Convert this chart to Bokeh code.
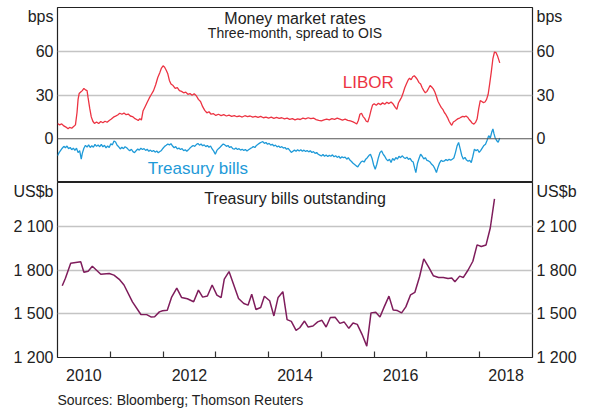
from bokeh.plotting import figure
from bokeh.layouts import column
from bokeh.models import (Range1d, FixedTicker, LinearAxis, Span, Label, Title,
                          CustomJSTickFormatter)
from bokeh.embed import file_html
from bokeh.resources import INLINE

# ---------------- data ----------------
libor_x = [2010.00, 2010.04, 2010.08, 2010.12, 2010.16, 2010.20, 2010.23, 2010.27, 2010.31, 2010.34,
           2010.37, 2010.39, 2010.41, 2010.44, 2010.47, 2010.50, 2010.53, 2010.56, 2010.58, 2010.61,
           2010.64, 2010.67, 2010.70, 2010.74, 2010.78, 2010.82, 2010.86, 2010.90, 2010.94, 2010.98,
           2011.02, 2011.06, 2011.10, 2011.14, 2011.18, 2011.22, 2011.26, 2011.30, 2011.34, 2011.38,
           2011.42, 2011.46, 2011.50, 2011.53, 2011.56, 2011.59, 2011.62, 2011.66, 2011.70, 2011.74,
           2011.78, 2011.82, 2011.86, 2011.90, 2011.94, 2011.97, 2012.00, 2012.03, 2012.06, 2012.09,
           2012.12, 2012.15, 2012.19, 2012.23, 2012.27, 2012.31, 2012.35, 2012.39, 2012.43, 2012.47,
           2012.51, 2012.55, 2012.59, 2012.63, 2012.67, 2012.71, 2012.75, 2012.79, 2012.83, 2012.87,
           2012.91, 2012.95, 2013.00, 2013.05, 2013.10, 2013.15, 2013.20, 2013.25, 2013.30, 2013.35,
           2013.40, 2013.45, 2013.50, 2013.55, 2013.60, 2013.65, 2013.70, 2013.75, 2013.80, 2013.85,
           2013.90, 2013.95, 2014.00, 2014.05, 2014.10, 2014.15, 2014.20, 2014.25, 2014.30, 2014.35,
           2014.40, 2014.45, 2014.50, 2014.55, 2014.60, 2014.65, 2014.70, 2014.75, 2014.80, 2014.85,
           2014.90, 2014.95, 2015.00, 2015.05, 2015.10, 2015.15, 2015.20, 2015.25, 2015.30, 2015.35,
           2015.40, 2015.45, 2015.50, 2015.55, 2015.60, 2015.64, 2015.67, 2015.70, 2015.73, 2015.76,
           2015.79, 2015.82, 2015.85, 2015.88, 2015.91, 2015.94, 2015.97, 2016.00, 2016.04, 2016.08,
           2016.12, 2016.16, 2016.20, 2016.24, 2016.28, 2016.32, 2016.36, 2016.40, 2016.43, 2016.46,
           2016.49, 2016.52, 2016.55, 2016.58, 2016.61, 2016.64, 2016.67, 2016.70, 2016.73, 2016.76,
           2016.79, 2016.82, 2016.85, 2016.88, 2016.91, 2016.94, 2016.97, 2017.00, 2017.03, 2017.06,
           2017.09, 2017.12, 2017.15, 2017.18, 2017.21, 2017.24, 2017.27, 2017.30, 2017.33, 2017.36,
           2017.39, 2017.42, 2017.45, 2017.47, 2017.50, 2017.53, 2017.56, 2017.59, 2017.62, 2017.65,
           2017.68, 2017.71, 2017.74, 2017.77, 2017.80, 2017.83, 2017.86, 2017.89, 2017.92, 2017.95,
           2017.98, 2018.01, 2018.04, 2018.07, 2018.10, 2018.13, 2018.16, 2018.19, 2018.22, 2018.25,
           2018.28, 2018.31, 2018.34, 2018.38]
libor_y = [10.5, 9.5, 10.2, 8.8, 8.0, 6.8, 7.8, 7.2, 8.5, 9.5,
           18.0, 27.0, 31.0, 32.0, 33.0, 34.5, 33.5, 33.0, 28.0, 21.0,
           15.0, 12.0, 10.5, 11.5, 10.5, 11.8, 11.0, 12.0, 11.3, 12.5,
           13.5, 14.8, 15.5, 16.3, 17.5, 16.8, 17.6, 16.5, 16.9, 15.6,
           15.2, 14.0, 13.2, 12.5, 13.8, 12.8, 19.0, 22.0, 25.0, 28.0,
           30.5, 33.0, 37.0, 42.0, 45.5, 48.5, 50.0, 49.0, 47.0, 44.5,
           40.0, 37.5, 36.5, 34.5, 35.0, 33.0, 32.5, 31.5, 32.0, 30.5,
           31.0, 29.8, 30.8, 29.5, 27.0, 25.5, 22.0, 19.5, 17.8, 18.5,
           16.8, 17.3, 16.0, 16.8, 15.9, 16.5, 15.6, 16.2, 15.4, 15.9,
           15.1, 15.6, 14.9, 15.8, 15.2, 15.6, 14.8, 15.4, 14.6, 15.3,
           14.4, 14.9, 14.2, 14.8, 14.0, 14.6, 13.9, 14.4, 13.6, 14.1,
           13.3, 13.8, 12.9, 13.6, 13.2, 14.1, 13.6, 14.4, 13.8, 14.2,
           13.1, 12.6, 12.2, 12.9, 13.4, 13.0, 13.8, 13.3, 14.1, 13.5,
           12.8, 13.4, 12.6, 12.2, 11.6, 10.8, 10.1, 12.5, 16.8, 17.5,
           15.2, 14.0, 12.0, 11.5, 15.0, 19.5, 23.2, 24.0, 23.0, 24.3,
           23.4, 24.6, 23.6, 25.0, 24.1, 25.2, 23.8, 21.5, 20.2, 24.5,
           26.5, 28.5, 31.5, 35.0, 37.5, 40.0, 41.5, 40.5, 42.5, 43.2,
           42.0, 40.5, 38.5, 37.5, 35.0, 33.0, 31.5, 32.5, 34.5, 36.5,
           35.5, 34.2, 32.0, 29.0, 25.5, 23.5, 21.5, 20.2, 18.0, 16.5,
           14.5, 12.0, 10.2, 9.2, 11.5, 12.2, 13.0, 13.8, 14.2, 14.8,
           15.4, 15.0, 15.6, 14.8, 13.2, 12.0, 10.6, 10.0, 11.2, 13.5,
           20.5, 26.2, 25.5, 24.8, 25.2, 27.0, 30.5, 38.0, 46.0, 55.0,
           59.5, 59.0, 56.5, 52.0]

tbill_x = [2010.00, 2010.03, 2010.06, 2010.09, 2010.12, 2010.15, 2010.18, 2010.21, 2010.24, 2010.27,
           2010.30, 2010.33, 2010.36, 2010.39, 2010.42, 2010.45, 2010.47, 2010.50, 2010.53, 2010.56,
           2010.59, 2010.62, 2010.65, 2010.68, 2010.71, 2010.74, 2010.77, 2010.80, 2010.83, 2010.86,
           2010.89, 2010.92, 2010.95, 2010.98, 2011.01, 2011.04, 2011.07, 2011.10, 2011.13, 2011.16,
           2011.19, 2011.22, 2011.25, 2011.28, 2011.31, 2011.34, 2011.37, 2011.40, 2011.43, 2011.46,
           2011.49, 2011.52, 2011.55, 2011.58, 2011.61, 2011.64, 2011.67, 2011.70, 2011.73, 2011.76,
           2011.79, 2011.82, 2011.85, 2011.88, 2011.91, 2011.94, 2011.97, 2012.00, 2012.03, 2012.06,
           2012.09, 2012.12, 2012.15, 2012.18, 2012.21, 2012.24, 2012.27, 2012.30, 2012.33, 2012.36,
           2012.39, 2012.42, 2012.45, 2012.48, 2012.51, 2012.54, 2012.57, 2012.60, 2012.63, 2012.66,
           2012.69, 2012.72, 2012.75, 2012.78, 2012.81, 2012.84, 2012.87, 2012.90, 2012.93, 2012.96,
           2012.99, 2013.02, 2013.05, 2013.08, 2013.11, 2013.14, 2013.17, 2013.20, 2013.23, 2013.26,
           2013.29, 2013.32, 2013.35, 2013.38, 2013.41, 2013.44, 2013.47, 2013.50, 2013.53, 2013.56,
           2013.59, 2013.62, 2013.65, 2013.68, 2013.71, 2013.74, 2013.77, 2013.80, 2013.83, 2013.86,
           2013.89, 2013.92, 2013.95, 2013.98, 2014.01, 2014.04, 2014.07, 2014.10, 2014.13, 2014.16,
           2014.19, 2014.22, 2014.25, 2014.28, 2014.31, 2014.34, 2014.37, 2014.40, 2014.43, 2014.46,
           2014.49, 2014.52, 2014.55, 2014.58, 2014.61, 2014.64, 2014.67, 2014.70, 2014.73, 2014.76,
           2014.79, 2014.82, 2014.85, 2014.88, 2014.91, 2014.94, 2014.97, 2015.00, 2015.03, 2015.06,
           2015.09, 2015.12, 2015.15, 2015.18, 2015.21, 2015.24, 2015.27, 2015.30, 2015.33, 2015.36,
           2015.39, 2015.42, 2015.45, 2015.48, 2015.51, 2015.54, 2015.57, 2015.60, 2015.63, 2015.66,
           2015.69, 2015.72, 2015.75, 2015.78, 2015.81, 2015.84, 2015.87, 2015.90, 2015.93, 2015.96,
           2015.99, 2016.02, 2016.05, 2016.08, 2016.11, 2016.14, 2016.17, 2016.20, 2016.23, 2016.26,
           2016.29, 2016.32, 2016.35, 2016.38, 2016.41, 2016.44, 2016.47, 2016.50, 2016.53, 2016.56,
           2016.59, 2016.62, 2016.65, 2016.68, 2016.71, 2016.74, 2016.77, 2016.79, 2016.82, 2016.85,
           2016.88, 2016.91, 2016.94, 2016.97, 2017.00, 2017.03, 2017.06, 2017.09, 2017.12, 2017.15,
           2017.18, 2017.21, 2017.24, 2017.27, 2017.30, 2017.33, 2017.36, 2017.39, 2017.42, 2017.45,
           2017.48, 2017.51, 2017.54, 2017.57, 2017.60, 2017.63, 2017.66, 2017.69, 2017.72, 2017.75,
           2017.78, 2017.81, 2017.84, 2017.87, 2017.90, 2017.93, 2017.96, 2017.99, 2018.02, 2018.05,
           2018.08, 2018.11, 2018.14, 2018.17, 2018.20, 2018.23, 2018.25, 2018.27, 2018.29, 2018.32,
           2018.35, 2018.38]
tbill_y = [-11.7, -9.5, -8.0, -6.5, -5.2, -6.2, -5.0, -6.8, -6.0, -7.5,
           -6.4, -8.0, -6.5, -9.5, -8.2, -14.0, -10.0, -6.5, -4.5, -5.8,
           -4.2, -6.0, -4.8, -5.8, -3.9, -5.2, -4.3, -5.5, -3.8, -5.6,
           -4.5, -6.2, -5.0, -6.0, -3.5, -4.2, -1.5, -2.2, -4.5, -5.5,
           -7.0, -5.8, -6.8, -5.5, -6.2, -7.3, -8.2, -7.2, -8.8, -9.5,
           -8.2, -7.0, -7.8, -6.5, -7.4, -6.8, -8.0, -7.2, -8.6, -7.8,
           -8.8, -8.0, -9.2, -8.4, -9.6, -8.8, -8.0, -6.5, -5.2, -4.5,
           -3.6, -4.2, -3.4, -5.0, -6.2, -5.4, -7.0, -6.4, -7.4, -6.8,
           -8.2, -7.5, -8.6, -7.6, -6.4, -5.4, -4.6, -5.2, -4.0, -3.2,
           -4.4, -3.6, -4.8, -4.2, -5.4, -4.6, -5.8, -5.0, -7.0, -8.5,
           -10.6, -8.0, -6.8, -5.8, -4.6, -3.6, -4.2, -5.2, -4.6, -6.0,
           -5.4, -6.8, -7.2, -6.4, -7.4, -6.8, -7.8, -7.2, -8.0, -7.4,
           -8.4, -7.6, -6.8, -6.2, -5.4, -6.0, -4.6, -3.8, -3.0, -2.4,
           -2.0, -3.2, -2.6, -3.8, -3.2, -4.4, -3.8, -5.0, -4.4, -5.6,
           -5.0, -6.0, -5.4, -6.4, -6.0, -7.2, -6.6, -8.0, -9.4, -8.6,
           -7.8, -8.6, -7.6, -8.4, -7.6, -8.6, -7.8, -8.8, -8.0, -9.0,
           -8.2, -9.4, -8.8, -10.0, -9.4, -10.6, -11.2, -11.8, -10.8, -12.0,
           -11.2, -12.2, -11.4, -12.0, -11.0, -12.4, -11.6, -12.8, -12.0, -13.4,
           -12.4, -13.0, -12.6, -14.0, -13.0, -14.6, -15.6, -16.8, -17.6, -18.6,
           -19.3, -17.5, -16.0, -15.2, -16.0, -14.0, -13.0, -11.5, -10.6, -13.5,
           -18.0, -20.9, -17.5, -13.0, -9.5, -8.3, -10.5, -12.0, -14.0, -15.2,
           -14.0, -16.3, -13.5, -14.8, -12.9, -14.0, -12.0, -13.0, -11.7, -12.8,
           -13.6, -12.6, -14.2, -13.4, -15.2, -16.0, -20.5, -23.2, -17.0, -13.5,
           -10.6, -12.0, -13.8, -13.0, -14.8, -15.2, -16.0, -17.5, -18.5, -20.5,
           -23.2, -19.5, -16.5, -14.8, -15.6, -15.2, -14.2, -15.0, -14.0, -14.8,
           -14.0, -13.2, -9.5, -5.0, -2.5, -7.0, -11.5, -14.0, -12.8, -14.6,
           -15.4, -14.8, -16.3, -12.0, -7.1, -8.2, -7.4, -9.4, -8.0, -6.2,
           -4.6, -3.7, -1.0, 2.1, 0.5, 4.8, 6.7, 3.5, 0.9, -1.2,
           -2.5, 0.5]

out_x = [2010.09, 2010.15, 2010.25, 2010.44, 2010.50, 2010.58, 2010.66, 2010.82, 2010.98, 2011.07,
         2011.17, 2011.26, 2011.42, 2011.58, 2011.69, 2011.77, 2011.84, 2011.93, 2011.99, 2012.08,
         2012.16, 2012.26, 2012.35, 2012.46, 2012.58, 2012.67, 2012.75, 2012.84, 2012.93, 2013.02,
         2013.10, 2013.16, 2013.25, 2013.34, 2013.43, 2013.53, 2013.61, 2013.68, 2013.76, 2013.85,
         2013.92, 2014.02, 2014.10, 2014.18, 2014.27, 2014.35, 2014.43, 2014.52, 2014.59, 2014.68,
         2014.75, 2014.84, 2014.93, 2015.01, 2015.09, 2015.17, 2015.26, 2015.35, 2015.43, 2015.52,
         2015.60, 2015.68, 2015.77, 2015.86, 2015.94, 2016.03, 2016.11, 2016.19, 2016.28, 2016.36,
         2016.44, 2016.52, 2016.60, 2016.69, 2016.77, 2016.86, 2016.94, 2017.03, 2017.12, 2017.22,
         2017.31, 2017.40, 2017.47, 2017.53, 2017.62, 2017.69, 2017.78, 2017.87, 2017.95, 2018.03,
         2018.12, 2018.20, 2018.28]
out_y = [1692, 1743, 1846, 1857, 1784, 1792, 1826, 1771, 1776, 1765,
         1736, 1697, 1582, 1495, 1494, 1478, 1480, 1513, 1520, 1524,
         1612, 1676, 1612, 1603, 1582, 1662, 1614, 1622, 1697, 1628,
         1610, 1738, 1789, 1697, 1605, 1570, 1559, 1634, 1529, 1543,
         1620, 1589, 1485, 1612, 1651, 1460, 1448, 1386, 1404, 1450,
         1409, 1416, 1444, 1455, 1409, 1474, 1476, 1434, 1444, 1400,
         1437, 1427, 1359, 1278, 1506, 1510, 1478, 1547, 1621, 1526,
         1522, 1506, 1547, 1630, 1646, 1754, 1876, 1822, 1761, 1749,
         1749, 1742, 1745, 1719, 1758, 1749, 1800, 1860, 1972, 1961,
         1972, 2088, 2288]

year_label_pos = [2010.5, 2012.5, 2014.5, 2016.5, 2018.5]
year_boundaries = [2011, 2012, 2013, 2014, 2015, 2016, 2017, 2018]
top_ticks = [0, 30, 60, 84]
bottom_ticks = [1200, 1500, 1800, 2100, 2345]

# ---------------- style ----------------
FONT = "Liberation Sans"
RED = "#EC3342"
BLUE = "#1E9AD8"
PURPLE = "#7F1D5C"
GRID = "#c4c4c4"
FRAME_W = 475
LB, RB = 57, 58

xr = Range1d(2010, 2019)


def style_yaxis(ax, ticks, fmt):
    ax.ticker = FixedTicker(ticks=ticks)
    ax.formatter = fmt
    ax.axis_line_color = None
    ax.major_tick_in = 0
    ax.major_tick_out = 0
    ax.minor_tick_in = 0
    ax.minor_tick_out = 0
    ax.major_label_text_font = FONT
    ax.major_label_text_font_size = "16px"
    ax.major_label_text_color = "#222222"
    ax.major_label_standoff = 4


top_fmt = CustomJSTickFormatter(code="return tick > 80 ? 'bps' : tick.toFixed(0);")
bot_fmt = CustomJSTickFormatter(code="""
if (tick > 2300) { return 'US$b'; }
var s = Math.round(tick).toString();
return s.length > 3 ? s.slice(0, s.length - 3) + ' ' + s.slice(-3) : s;
""")

# ---------------- top panel ----------------
p1 = figure(frame_width=FRAME_W, frame_height=175, x_range=xr, y_range=Range1d(-30, 90),
            output_backend="svg", toolbar_location=None, x_axis_location=None,
            y_axis_location="left", min_border_left=LB, min_border_right=RB,
            min_border_top=7, min_border_bottom=0)
p1.add_layout(LinearAxis(), "right")
for ax in p1.yaxis:
    style_yaxis(ax, top_ticks, top_fmt)
p1.xgrid.visible = False
p1.ygrid.ticker = FixedTicker(ticks=[30, 60])
p1.ygrid.grid_line_color = GRID
p1.ygrid.grid_line_width = 1.5
p1.outline_line_color = "#222222"
p1.outline_line_width = 1.2
p1.add_layout(Span(location=0, dimension="width", line_color="#555555", line_width=1.2))

p1.line(libor_x, libor_y, line_color=RED, line_width=1.3)
p1.line(tbill_x, tbill_y, line_color=BLUE, line_width=1.3)

p1.add_layout(Label(x=2014.5, y=82.3, text="Money market rates", text_align="center",
                    text_baseline="alphabetic", text_font=FONT, text_font_size="16px",
                    text_color="#222222"))
p1.add_layout(Label(x=2014.5, y=72.6, text="Three-month, spread to OIS", text_align="center",
                    text_baseline="alphabetic", text_font=FONT, text_font_size="14px",
                    text_color="#222222"))
p1.add_layout(Label(x=2015.89, y=38.5, text="LIBOR", text_align="center",
                    text_baseline="middle", text_font=FONT, text_font_size="17px",
                    text_color=RED))
p1.add_layout(Label(x=2012.66, y=-20.5, text="Treasury bills", text_align="center",
                    text_baseline="middle", text_font=FONT, text_font_size="17px",
                    text_color=BLUE))

# ---------------- bottom panel ----------------
p2 = figure(frame_width=FRAME_W, frame_height=175, x_range=xr, y_range=Range1d(1200, 2400),
            output_backend="svg", toolbar_location=None, x_axis_location="below",
            y_axis_location="left", min_border_left=LB, min_border_right=RB,
            min_border_top=0, min_border_bottom=0)
p2.add_layout(LinearAxis(), "right")
for ax in p2.yaxis:
    style_yaxis(ax, bottom_ticks, bot_fmt)
xa = p2.xaxis[0]
xa.ticker = FixedTicker(ticks=year_label_pos, minor_ticks=year_boundaries)
xa.formatter = CustomJSTickFormatter(code="return Math.floor(tick).toString();")
xa.axis_line_color = None
xa.major_tick_in = 0
xa.major_tick_out = 0
xa.minor_tick_in = 6
xa.minor_tick_out = 0
xa.minor_tick_line_color = "#333333"
xa.minor_tick_line_width = 1.2
xa.major_label_text_font = FONT
xa.major_label_text_font_size = "16px"
xa.major_label_text_color = "#222222"
xa.major_label_standoff = 11

p2.xgrid.visible = False
p2.ygrid.ticker = FixedTicker(ticks=[1500, 1800, 2100])
p2.ygrid.grid_line_color = GRID
p2.ygrid.grid_line_width = 1.5
p2.outline_line_color = "#222222"
p2.outline_line_width = 1.2

p2.line(out_x, out_y, line_color=PURPLE, line_width=1.5)

p2.add_layout(Label(x=2014.5, y=2290, text="Treasury bills outstanding", text_align="center",
                    text_baseline="alphabetic", text_font=FONT, text_font_size="16px",
                    text_color="#222222"))

p2.add_layout(Title(text="Sources: Bloomberg; Thomson Reuters", align="left",
                    text_font=FONT, text_font_size="14px", text_font_style="normal",
                    text_color="#222222", standoff=12), "below")

layout = column(p1, p2, spacing=0)

open("out.html", "w").write(file_html(layout, INLINE))
